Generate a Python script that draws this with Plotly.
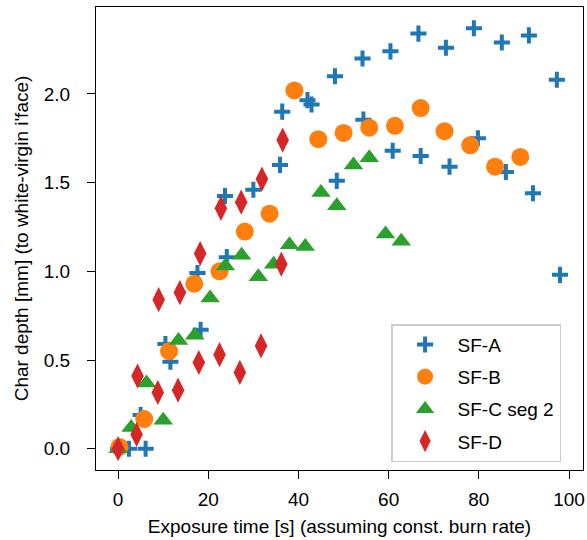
import plotly.graph_objects as go

# ---- data ----
sfa_x = [0, 2.4, 6.1, 5.0, 11.6, 10.5, 18.3, 17.6, 24.1, 23.7, 30.0, 35.9, 36.4, 42.0, 42.9,
         48.1, 48.5, 54.2, 54.4, 60.4, 60.9, 66.6, 67.1, 72.7, 73.5, 78.9, 79.8, 85.1, 86.0,
         91.1, 92.0, 97.3, 98.0]
sfa_y = [0, 0.0, 0.0, 0.19, 0.49, 0.59, 0.67, 0.99, 1.08, 1.425, 1.46, 1.60, 1.90, 1.965, 1.94,
         2.10, 1.51, 2.20, 1.855, 2.24, 1.68, 2.34, 1.65, 2.26, 1.59, 2.37, 1.75, 2.29, 1.56,
         2.33, 1.44, 2.08, 0.98]

sfb_x = [0.3, 5.8, 11.3, 16.9, 22.5, 28.1, 33.6, 39.1, 44.4, 50.0, 55.7, 61.4, 67.1, 72.4,
         78.1, 83.6, 89.2]
sfb_y = [0.01, 0.167, 0.55, 0.93, 1.0, 1.224, 1.325, 2.02, 1.745, 1.78, 1.81, 1.82, 1.92, 1.79,
         1.71, 1.59, 1.645]

sfc_x = [0, 2.9, 6.3, 10.0, 13.4, 17.0, 20.4, 23.8, 27.4, 31.1, 34.5, 38.0, 41.5, 45.0, 48.5,
         52.2, 55.7, 59.3, 62.8]
sfc_y = [0, 0.12, 0.37, 0.16, 0.61, 0.64, 0.85, 1.03, 1.09, 0.97, 1.04, 1.15, 1.14, 1.444, 1.37,
         1.60, 1.64, 1.21, 1.17]

sfd_x = [0, 4.1, 4.3, 8.8, 9.0, 13.3, 13.7, 17.9, 18.2, 22.5, 22.8, 27.0, 27.3, 31.7, 31.9,
         36.2, 36.5]
sfd_y = [0, 0.08, 0.41, 0.317, 0.84, 0.33, 0.88, 0.486, 1.10, 0.53, 1.355, 0.43, 1.39, 0.58,
         1.52, 1.04, 1.74]

x_ticks = [0, 20, 40, 60, 80, 100]
y_ticks = [0.0, 0.5, 1.0, 1.5, 2.0]

FONT = "Liberation Sans, Arial, sans-serif"

fig = go.Figure()
fig.add_trace(go.Scatter(x=sfa_x, y=sfa_y, mode="markers", name="SF-A", legendgroup="a",
                         marker=dict(symbol="cross-thin", size=11.5, color="#1f77b4",
                                     line=dict(color="#1f77b4", width=4))))
fig.add_trace(go.Scatter(x=sfb_x, y=sfb_y, mode="markers", name="SF-B", legendgroup="b",
                         marker=dict(symbol="circle", size=18, color="#ff7f0e",
                                     line=dict(width=0))))
fig.add_trace(go.Scatter(x=sfc_x, y=sfc_y, mode="markers", name="SF-C seg 2", legendgroup="c",
                         marker=dict(symbol="triangle-up", size=17, color="#2ca02c",
                                     line=dict(width=0))))
fig.add_trace(go.Scatter(x=sfd_x, y=sfd_y, mode="markers", name="SF-D", legendgroup="d",
                         marker=dict(symbol="diamond-tall", size=18, color="#d62728",
                                     line=dict(width=0))))

axis_common = dict(
    showline=True, linecolor="black", linewidth=1.2, mirror=True,
    ticks="outside", ticklen=8, tickwidth=1.2, tickcolor="black",
    showgrid=False, zeroline=False,
    tickfont=dict(family=FONT, size=19, color="black"),
)

fig.update_xaxes(range=[-4.9, 103.1], tickvals=x_ticks, ticktext=[str(v) for v in x_ticks],
                 ticklabelstandoff=4,
                 title=dict(text="Exposure time [s] (assuming const. burn rate)",
                            font=dict(family=FONT, size=19, color="black"), standoff=10),
                 **axis_common)
fig.update_yaxes(range=[-0.12, 2.49], tickvals=y_ticks, ticktext=[f"{v:.1f}" for v in y_ticks],
                 ticklabelstandoff=13,
                 title=dict(text="Char depth [mm] (to white-virgin i'face)",
                            font=dict(family=FONT, size=19, color="black"), standoff=10),
                 **axis_common)

fig.update_layout(
    width=587, height=540,
    margin=dict(l=96, r=2, t=7, b=70),
    paper_bgcolor="white", plot_bgcolor="white",
    font=dict(family=FONT, size=19, color="black"),
    legend=dict(x=0.955, y=0.017, xanchor="right", yanchor="bottom",
                bgcolor="rgba(255,255,255,0.8)", bordercolor="#cccccc", borderwidth=1.5,
                font=dict(family=FONT, size=19, color="black"),
                traceorder="grouped", tracegroupgap=4.5, itemwidth=55),
)

fig.write_html("out.html")
